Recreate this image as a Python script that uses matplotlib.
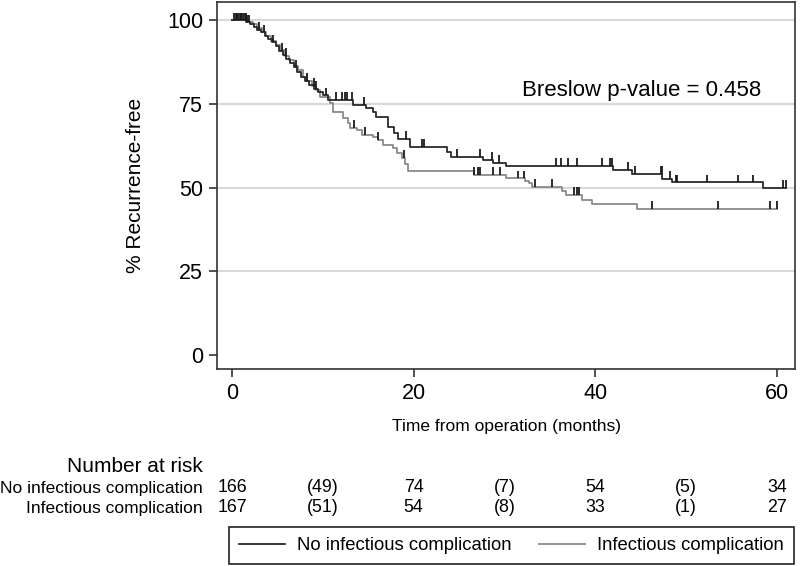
import numpy as np
import matplotlib
matplotlib.use("Agg")
import matplotlib.pyplot as plt
from matplotlib.transforms import blended_transform_factory
from matplotlib.lines import Line2D

plt.rcParams['font.family'] = ['Liberation Sans', 'DejaVu Sans']

# ---------------- data ----------------
group_names = ["No infectious complication", "Infectious complication"]

# Group 1: no infectious complication (step times, survival after step)
g1_times = [0, 1.5, 2.0, 2.4, 2.8, 3.2, 3.6, 4.0, 4.4, 4.8, 5.2, 5.6, 6.0, 6.4, 6.8,
            7.2, 7.6, 8.0, 8.5, 9.0, 9.5, 10.0, 10.6, 13.3, 14.8, 15.5, 15.9, 17.2,
            17.8, 18.3, 19.6, 23.7, 24.1, 27.6, 28.7, 30.2, 42.0, 44.0, 47.4, 48.5, 58.5]
g1_surv = [100, 99.4, 98.8, 98.0, 97.2, 96.4, 95.4, 94.4, 93.4, 92.2, 91.0, 89.6, 88.4,
           87.2, 86.0, 84.6, 83.2, 82.0, 80.8, 79.6, 78.6, 77.6, 76.2, 74.7, 73.7, 72.7,
           71.0, 68.2, 66.3, 64.5, 62.2, 60.6, 59.3, 58.3, 57.5, 56.5, 55.3, 54.1, 52.7,
           51.6, 50.0]
g1_end = 61.0
g1_censor = [0.2, 0.4, 0.6, 0.8, 1.0, 1.2, 1.4, 1.7, 1.9, 3.0, 4.5, 5.5, 7.0, 8.3, 9.3,
             10.4, 11.5, 12.1, 12.4, 12.7, 13.2, 14.5, 19.2, 20.9, 21.2, 24.8, 27.3,
             28.6, 29.4, 35.7, 36.2, 37.0, 38.0, 40.7, 41.6, 41.8, 43.6, 44.4, 47.2,
             47.3, 48.2, 48.9, 49.0, 52.3, 55.7, 57.4, 60.7, 61.0]

# Group 2: infectious complication
g2_times = [0, 1.8, 2.3, 2.8, 3.3, 3.8, 4.3, 4.8, 5.3, 5.8, 6.3, 6.8, 7.3, 7.8, 8.3,
            8.8, 9.3, 9.7, 10.8, 11.1, 12.2, 12.8, 13.0, 13.8, 14.3, 15.5, 16.1, 16.6,
            17.7, 18.2, 18.7, 19.0, 19.4, 26.6, 30.2, 32.3, 32.7, 33.0, 36.3, 36.8,
            38.5, 39.6, 44.6]
g2_surv = [100, 99.4, 98.8, 97.6, 96.4, 95.2, 93.9, 92.6, 91.3, 89.5, 88.2, 86.4, 85.1,
           83.2, 81.9, 80.5, 79.2, 77.2, 75.3, 72.6, 70.8, 69.3, 67.8, 67.3, 65.8, 65.2,
           64.3, 62.8, 61.9, 60.4, 58.9, 57.2, 55.1, 53.8, 52.8, 52.0, 51.3, 50.3, 49.0,
           47.8, 46.3, 45.1, 43.7]
g2_end = 60.0
g2_censor = [0.5, 1.0, 1.5, 3.5, 6.0, 9.0, 13.4, 14.6, 16.1, 18.9, 26.6, 27.1, 27.3,
             28.7, 29.5, 31.5, 32.2, 33.4, 35.2, 37.7, 38.0, 38.2, 46.3, 53.5, 59.3, 60.0]

risk_times = [0, 10, 20, 30, 40, 50, 60]
risk_g1 = ["166", "(49)", "74", "(7)", "54", "(5)", "34"]
risk_g2 = ["167", "(51)", "54", "(8)", "33", "(1)", "27"]

y_ticks = [0, 25, 50, 75, 100]
x_ticks = [0, 20, 40, 60]
p_text = "Breslow p-value = 0.458"

# ---------------- figure ----------------
W, H = 800, 566
fig = plt.figure(figsize=(W / 100, H / 100), dpi=100)
ax = fig.add_axes([217 / W, 1 - 369 / H, (795 - 217) / W, (369 - 2) / H])
ax.set_xlim(-1.65, 62.0)
ax.set_ylim(-4.2, 105.5)

for yv in y_ticks[1:]:
    ax.axhline(yv, color='#d9d9d9', lw=1.5, zorder=0)

col1 = '#2a2a2a'
col2 = '#8a8a8a'


def draw_group(times, surv, end, censor, color):
    t = list(times) + [end]
    s = list(surv) + [surv[-1]]
    ax.step(t, s, where='post', color=color, lw=1.3, zorder=3)
    tarr = np.array(times)
    sarr = np.array(surv)
    for c in censor:
        idx = np.searchsorted(tarr, c, side='right') - 1
        sv = sarr[max(idx, 0)]
        ax.vlines(c, sv, sv + 2.3, color='#1a1a1a', lw=1.3, zorder=4)


draw_group(g2_times, g2_surv, g2_end, g2_censor, col2)
draw_group(g1_times, g1_surv, g1_end, g1_censor, col1)

ax.set_yticks(y_ticks)
ax.set_xticks(x_ticks)
ax.tick_params(axis='both', direction='out', length=6, width=1.2, labelsize=15.5,
               color='#333333', pad=4)
for sp in ax.spines.values():
    sp.set_linewidth(1.2)
    sp.set_color('#333333')
ax.set_ylabel("% Recurrence-free", fontsize=15, labelpad=16)
ax.set_xlabel("Time from operation (months)", fontsize=12.5, labelpad=11)

ax.text(31.9, 79.0, p_text, fontsize=16, va='center', ha='left')

# ---------------- number at risk ----------------
tr = blended_transform_factory(ax.transData, fig.transFigure)
fig.text(203 / W, 1 - 466 / H, "Number at risk", fontsize=15, ha='right', va='center')
fig.text(203 / W, 1 - 488 / H, group_names[0], fontsize=12.5, ha='right', va='center')
fig.text(203 / W, 1 - 508 / H, group_names[1], fontsize=12.5, ha='right', va='center')
for t, a, b in zip(risk_times, risk_g1, risk_g2):
    ax.text(t, 1 - 488 / H, a, transform=tr, fontsize=12.8, ha='center', va='center')
    ax.text(t, 1 - 508 / H, b, transform=tr, fontsize=12.8, ha='center', va='center')

# ---------------- legend ----------------
handles = [Line2D([], [], color=col1, lw=1.3), Line2D([], [], color=col2, lw=1.3)]
leg = fig.legend(handles, group_names, ncol=2, loc='center',
                 bbox_to_anchor=((228 + 795) / 2 / W, 1 - 545.5 / H),
                 fancybox=False, edgecolor='#222222', fontsize=13.3,
                 handlelength=2.5, handletextpad=0.65, columnspacing=1.5,
                 borderaxespad=0, framealpha=1, borderpad=0.55)
leg.get_frame().set_linewidth(1.2)

fig.savefig("out.png", dpi=100)
